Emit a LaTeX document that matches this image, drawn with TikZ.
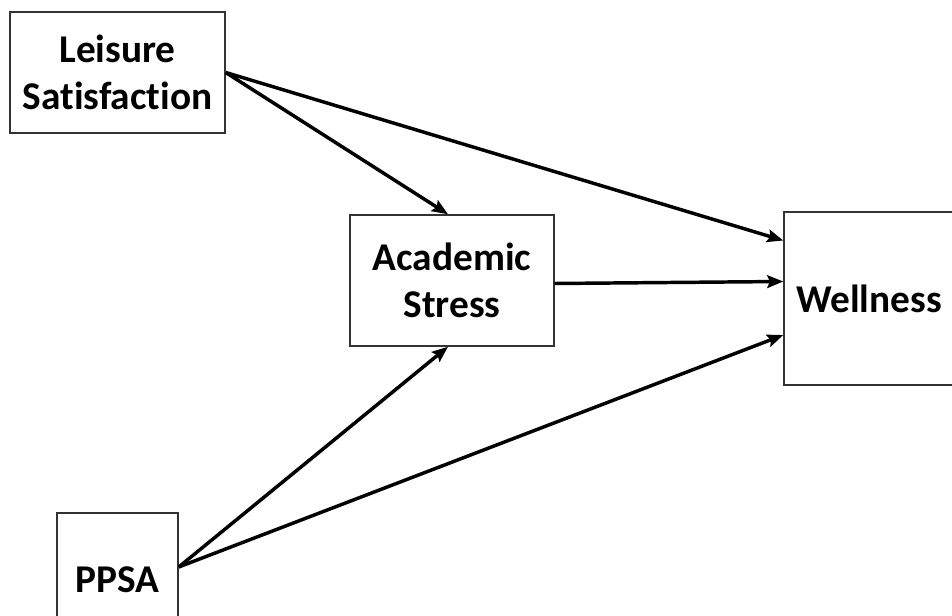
\documentclass[tikz,border=0pt]{standalone}
\usepackage{fontspec}
\setmainfont[Ligatures=NoCommon]{Carlito}
\usetikzlibrary{calc,arrows.meta}
\begin{document}
\begin{tikzpicture}[x=0.75pt,y=-0.75pt,
  box/.style={draw=black!80,line width=1.1pt,fill=white,inner sep=0pt,
    align=center,font=\fontsize{29.5}{35}\selectfont\bfseries},
  path/.style={draw=black,line width=2.6pt,-{Stealth[length=12pt,width=9.5pt,inset=2pt]}}]
  \useasboundingbox (0,0) rectangle (952,616);
  \clip (0,0) rectangle (952,616);
  % variables
  \node[box,minimum width=215*0.75pt,minimum height=121*0.75pt] (ls) at (117.5,72.5) {Leisure\\Satisfaction};
  \node[box,minimum width=204*0.75pt,minimum height=131*0.75pt] (as) at (452,280.5) {Academic\\Stress};
  \node[box,minimum width=170*0.75pt,minimum height=173*0.75pt] (w) at (869,298.5) {Wellness};
  \node[box,minimum width=121*0.75pt,minimum height=134*0.75pt] (pp) at (117.5,580) {PPSA};
  % paths
  \draw[path] (ls.east) -- ($(as.north)+(-4,0)$);
  \draw[path] (ls.east) -- ($(w.west)+(0,-58)$);
  \draw[path] ($(as.east)+(0,3)$) -- ($(w.west)+(0,-17)$);
  \draw[path] ($(pp.east)+(0,-13)$) -- ($(as.south)+(-4,0)$);
  \draw[path] ($(pp.east)+(0,-13)$) -- ($(w.west)+(0,36.5)$);
\end{tikzpicture}
\end{document}
